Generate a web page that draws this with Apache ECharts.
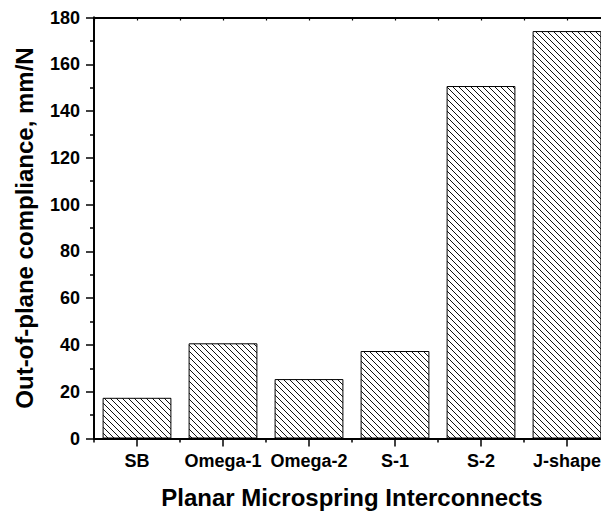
<!DOCTYPE html>
<html>
<head>
<meta charset="utf-8">
<script src="https://cdn.jsdelivr.net/npm/echarts@6/dist/echarts.min.js"></script>
<style>
html,body{margin:0;padding:0;background:#fff;}
#chart{width:601px;height:511px;}
</style>
</head>
<body>
<div id="chart"></div>
<script>
const categories = ['SB', 'Omega-1', 'Omega-2', 'S-1', 'S-2', 'J-shape'];
const compliance = [17.4, 40.7, 25.4, 37.4, 150.7, 174.2];
const yTicks = [0, 20, 40, 60, 80, 100, 120, 140, 160, 180];
const xTitle = 'Planar Microspring Interconnects';
const yTitle = 'Out-of-plane compliance, mm/N';

function hatch() {
  const s = 6;
  const c = document.createElement('canvas');
  c.width = s; c.height = s;
  const g = c.getContext('2d');
  g.fillStyle = '#fff';
  g.fillRect(0, 0, s, s);
  g.strokeStyle = '#111';
  g.lineWidth = 1;
  g.beginPath();
  for (const k of [-s, 0, s]) {
    g.moveTo(k, 0);
    g.lineTo(k + s, s);
  }
  g.stroke();
  return c;
}

const font = '"Liberation Sans", Arial, sans-serif';
const chart = echarts.init(document.getElementById('chart'), null, {renderer: 'svg'});
const axisLine = {show: true, lineStyle: {color: '#000', width: 1.8}};
chart.setOption({
  animation: false,
  backgroundColor: '#fff',
  grid: {left: 94, top: 17.5, width: 516, height: 421, containLabel: false, outerBoundsMode: 'none'},
  xAxis: [
    {
      type: 'category', data: categories, position: 'bottom',
      axisLine: axisLine,
      axisTick: {show: true, alignWithLabel: true, length: 8, lineStyle: {color: '#000', width: 1.5}},
      axisLabel: {color: '#000', fontFamily: font, fontWeight: 'bold', fontSize: 18, margin: 13, interval: 0},
      name: xTitle, nameLocation: 'middle', nameGap: 47,
      nameTextStyle: {color: '#000', fontFamily: font, fontWeight: 'bold', fontSize: 24}
    },
    {
      type: 'value', min: 0, max: 6, interval: 1, position: 'bottom',
      axisLine: {show: false},
      axisTick: {show: true, length: 4, lineStyle: {color: '#000', width: 1.5}},
      axisLabel: {show: false}, splitLine: {show: false}
    },
    {
      type: 'value', min: 0, max: 6, interval: 0.5, position: 'top',
      axisLine: axisLine,
      axisTick: {show: true, inside: true, length: 3, lineStyle: {color: '#000', width: 1.2}},
      axisLabel: {show: false}, splitLine: {show: false}
    }
  ],
  yAxis: [
    {
      type: 'value', min: yTicks[0], max: yTicks[yTicks.length - 1], interval: 20,
      axisLine: axisLine,
      axisTick: {show: true, length: 8, lineStyle: {color: '#000', width: 1.5}},
      minorTick: {show: true, splitNumber: 2, length: 4, lineStyle: {color: '#000', width: 1.5}},
      axisLabel: {color: '#000', fontFamily: font, fontWeight: 'bold', fontSize: 18, margin: 14},
      splitLine: {show: false},
      name: yTitle, nameLocation: 'middle', nameGap: 58,
      nameTextStyle: {color: '#000', fontFamily: font, fontWeight: 'bold', fontSize: 24}
    },
    {
      type: 'value', min: 0, max: 180, position: 'right',
      axisLine: axisLine, axisTick: {show: false}, axisLabel: {show: false}, splitLine: {show: false}
    }
  ],
  series: [{
    type: 'bar',
    xAxisIndex: 0, yAxisIndex: 0,
    data: compliance,
    barWidth: '80%',
    itemStyle: {color: {image: hatch(), repeat: 'repeat'}, borderColor: '#000', borderWidth: 1}
  }]
});
</script>
</body>
</html>
